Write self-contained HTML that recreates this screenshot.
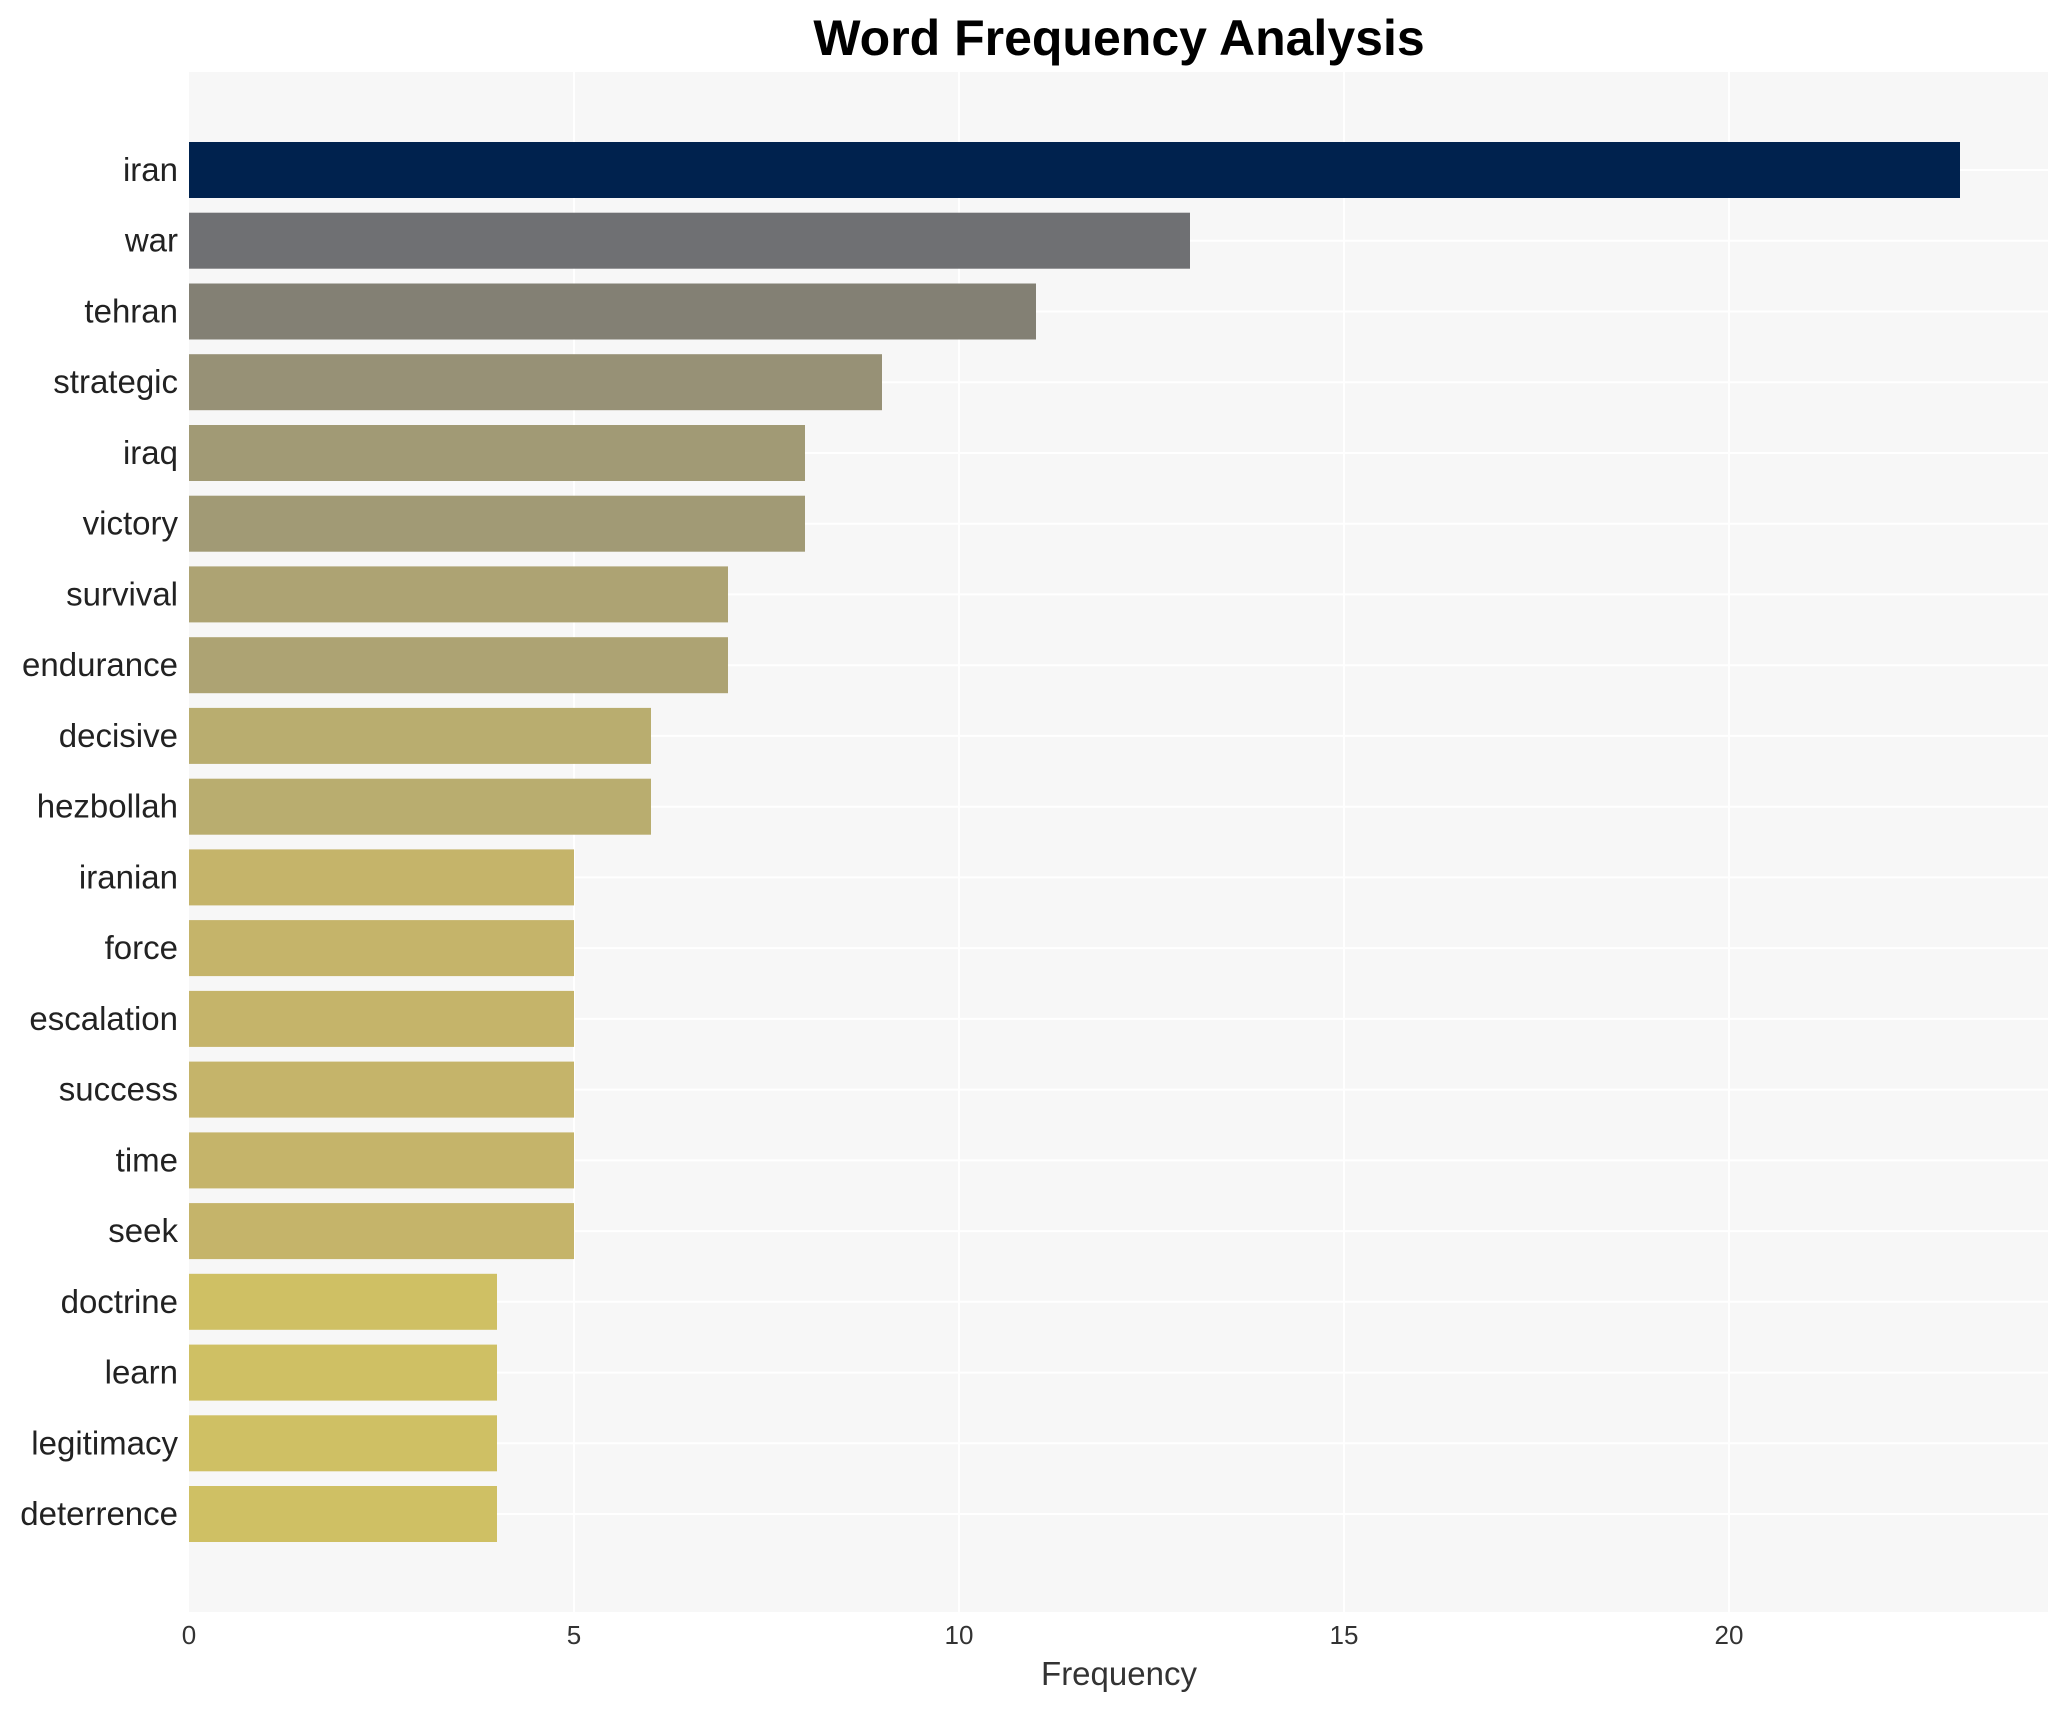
<!DOCTYPE html>
<html><head><meta charset="utf-8"><style>body{margin:0;background:#fff}svg{display:block}</style></head>
<body>
<svg width="2069" height="1710" xmlns="http://www.w3.org/2000/svg" font-family="Liberation Sans, Arial, sans-serif">
<rect width="2069" height="1710" fill="#fff"/>
<rect x="189" y="72" width="1859" height="1540" fill="#f7f7f7"/>
<g stroke="#ffffff" stroke-width="2">
<line x1="574" y1="72" x2="574" y2="1612"/>
<line x1="959" y1="72" x2="959" y2="1612"/>
<line x1="1344" y1="72" x2="1344" y2="1612"/>
<line x1="1729" y1="72" x2="1729" y2="1612"/>
<line x1="189" x2="2048" y1="170" y2="170"/>
<line x1="189" x2="2048" y1="240.7" y2="240.7"/>
<line x1="189" x2="2048" y1="311.5" y2="311.5"/>
<line x1="189" x2="2048" y1="382.2" y2="382.2"/>
<line x1="189" x2="2048" y1="453" y2="453"/>
<line x1="189" x2="2048" y1="523.7" y2="523.7"/>
<line x1="189" x2="2048" y1="594.4" y2="594.4"/>
<line x1="189" x2="2048" y1="665.2" y2="665.2"/>
<line x1="189" x2="2048" y1="735.9" y2="735.9"/>
<line x1="189" x2="2048" y1="806.7" y2="806.7"/>
<line x1="189" x2="2048" y1="877.4" y2="877.4"/>
<line x1="189" x2="2048" y1="948.1" y2="948.1"/>
<line x1="189" x2="2048" y1="1018.9" y2="1018.9"/>
<line x1="189" x2="2048" y1="1089.6" y2="1089.6"/>
<line x1="189" x2="2048" y1="1160.4" y2="1160.4"/>
<line x1="189" x2="2048" y1="1231.1" y2="1231.1"/>
<line x1="189" x2="2048" y1="1301.8" y2="1301.8"/>
<line x1="189" x2="2048" y1="1372.6" y2="1372.6"/>
<line x1="189" x2="2048" y1="1443.3" y2="1443.3"/>
<line x1="189" x2="2048" y1="1514" y2="1514"/>
</g>
<g>
<rect x="189" y="142" width="1771" height="56" fill="#00224e"/>
<rect x="189" y="212.7" width="1001" height="56" fill="#6f7073"/>
<rect x="189" y="283.5" width="847" height="56" fill="#838074"/>
<rect x="189" y="354.2" width="693" height="56" fill="#979176"/>
<rect x="189" y="425" width="616" height="56" fill="#a19a75"/>
<rect x="189" y="495.7" width="616" height="56" fill="#a19a75"/>
<rect x="189" y="566.4" width="539" height="56" fill="#ada373"/>
<rect x="189" y="637.2" width="539" height="56" fill="#ada373"/>
<rect x="189" y="707.9" width="462" height="56" fill="#b9ad6f"/>
<rect x="189" y="778.7" width="462" height="56" fill="#b9ad6f"/>
<rect x="189" y="849.4" width="385" height="56" fill="#c5b46a"/>
<rect x="189" y="920.1" width="385" height="56" fill="#c5b46a"/>
<rect x="189" y="990.9" width="385" height="56" fill="#c5b46a"/>
<rect x="189" y="1061.6" width="385" height="56" fill="#c5b46a"/>
<rect x="189" y="1132.4" width="385" height="56" fill="#c5b46a"/>
<rect x="189" y="1203.1" width="385" height="56" fill="#c5b46a"/>
<rect x="189" y="1273.8" width="308" height="56" fill="#cfc064"/>
<rect x="189" y="1344.6" width="308" height="56" fill="#cfc064"/>
<rect x="189" y="1415.3" width="308" height="56" fill="#cfc064"/>
<rect x="189" y="1486" width="308" height="56" fill="#cfc064"/>
</g>
<g font-size="33" fill="#222" text-anchor="end">
<text x="178" y="181">iran</text>
<text x="178" y="251.7">war</text>
<text x="178" y="322.5">tehran</text>
<text x="178" y="393.2">strategic</text>
<text x="178" y="464">iraq</text>
<text x="178" y="534.7">victory</text>
<text x="178" y="605.4">survival</text>
<text x="178" y="676.2">endurance</text>
<text x="178" y="746.9">decisive</text>
<text x="178" y="817.7">hezbollah</text>
<text x="178" y="888.4">iranian</text>
<text x="178" y="959.1">force</text>
<text x="178" y="1029.9">escalation</text>
<text x="178" y="1100.6">success</text>
<text x="178" y="1171.4">time</text>
<text x="178" y="1242.1">seek</text>
<text x="178" y="1312.8">doctrine</text>
<text x="178" y="1383.6">learn</text>
<text x="178" y="1454.3">legitimacy</text>
<text x="178" y="1525">deterrence</text>
</g>
<g font-size="26" fill="#333" text-anchor="middle">
<text x="189" y="1644">0</text><text x="574" y="1644">5</text><text x="959" y="1644">10</text><text x="1344" y="1644">15</text><text x="1729" y="1644">20</text>
</g>
<text x="1119" y="1685" font-size="33" fill="#333" text-anchor="middle">Frequency</text>
<text x="1119" y="55" font-size="50" font-weight="bold" fill="#000" text-anchor="middle">Word Frequency Analysis</text>
</svg>
</body></html>
